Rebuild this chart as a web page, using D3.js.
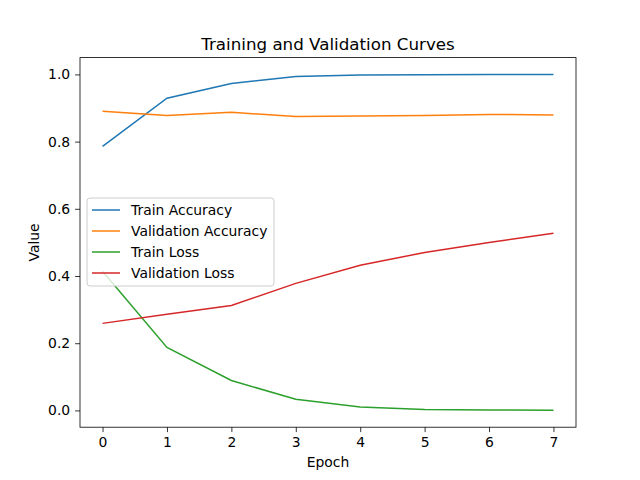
<!DOCTYPE html>
<html><head><meta charset="utf-8">
<script src="https://cdn.jsdelivr.net/npm/d3@7"></script>
<style>body{margin:0;background:#fff}svg{font-family:"DejaVu Sans",sans-serif}</style>
</head><body><svg id="c" width="640" height="480"></svg>
<script>
const epochs=[0,1,2,3,4,5,6,7];
const trainAcc=[0.786,0.929,0.973,0.994,0.998,0.999,1.0,1.0];
const valAcc=[0.890,0.878,0.887,0.875,0.876,0.878,0.881,0.879];
const trainLoss=[0.414,0.1875,0.089,0.033,0.010,0.003,0.0015,0.0005];
const valLoss=[0.259,0.286,0.3125,0.378,0.432,0.470,0.500,0.527];
const seriesNames=["Train Accuracy","Validation Accuracy","Train Loss","Validation Loss"];
const colors=["#1f77b4","#ff7f0e","#2ca02c","#d62728"];
const yTicks=[0,0.2,0.4,0.6,0.8,1.0];
const all=[trainAcc,valAcc,trainLoss,valLoss];
const svg=d3.select("#c");
const L=80,R=576,T=57.6,B=427.2;
const x=d3.scaleLinear().domain([-0.35,7.35]).range([L,R]);
const y=d3.scaleLinear().domain([-0.04998,1.04998]).range([B,T]);
const line=d3.line().x((d,i)=>x(epochs[i])).y(d=>y(d));
all.forEach((s,k)=>svg.append("path").attr("d",line(s)).attr("fill","none").attr("stroke",colors[k]).attr("stroke-width",1.5));
const xa=svg.append("g").attr("transform",`translate(0,${B})`).call(d3.axisBottom(x).tickValues(epochs).tickFormat(d3.format("d")).tickSize(4.9).tickPadding(4.9));
const ya=svg.append("g").attr("transform",`translate(${L},0)`).call(d3.axisLeft(y).tickValues(yTicks).tickFormat(d3.format(".1f")).tickSize(4.9).tickPadding(4.9));
[xa,ya].forEach(a=>{a.select(".domain").remove();a.selectAll("text").attr("font-size",13.9).attr("fill","#000").attr("font-family","DejaVu Sans");a.selectAll("line").attr("stroke","#000").attr("stroke-width",0.8);});
svg.append("rect").attr("x",L).attr("y",T).attr("width",R-L).attr("height",B-T).attr("fill","none").attr("stroke","#000").attr("stroke-width",0.8);
svg.append("text").attr("x",(L+R)/2).attr("y",T-8).attr("text-anchor","middle").attr("font-size",16.7).text("Training and Validation Curves");
svg.append("text").attr("x",(L+R)/2).attr("y",467).attr("text-anchor","middle").attr("font-size",13.9).text("Epoch");
svg.append("text").attr("transform",`translate(39,${(T+B)/2}) rotate(-90)`).attr("text-anchor","middle").attr("font-size",13.9).text("Value");
const lg=svg.append("g");
lg.append("rect").attr("x",87).attr("y",198).attr("width",187).attr("height",88).attr("rx",3).attr("fill","#fff").attr("fill-opacity",0.8).attr("stroke","#ccc");
seriesNames.forEach((n,i)=>{const yy=210+i*21;
lg.append("line").attr("x1",92).attr("x2",120).attr("y1",yy).attr("y2",yy).attr("stroke",colors[i]).attr("stroke-width",1.5);
lg.append("text").attr("x",131).attr("y",yy+5).attr("font-size",13.9).text(n);});
</script></body></html>
